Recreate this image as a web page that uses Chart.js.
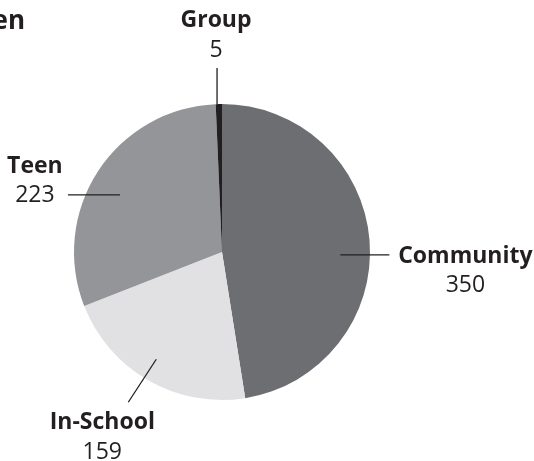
<!DOCTYPE html>
<html>
<head>
<meta charset="utf-8">
<script src="https://cdn.jsdelivr.net/npm/chart.js"></script>
<style>
  body { margin: 0; background: #fff; }
  canvas { display: block; }
</style>
</head>
<body>
<canvas id="pieChart" width="534" height="461"></canvas>
<script>
// データ(時計回り、上から)
let categories = ['Community', 'In-School', 'Teen', 'Group'];
let counts = [350, 159, 223, 5];
let sliceColors = ['#6d6e71', '#e1e1e3', '#939598', '#231f20'];

// ラベルの引き出し線の設定(角度のずれ, 始点の半径比, 線の向き, 文字の位置)
let callouts = [
  { shift: 5.9,  r: 0.80, dx: 49,  dy: 0,   tx: 76,  ty: 8 },
  { shift: 1.7,  r: 0.85, dx: -28, dy: 43,  tx: -26, ty: 27 },
  { shift: -3.9, r: 0.79, dx: -52, dy: 0,   tx: -33, ty: -22 },
  { shift: -0.7, r: 1.0,  dx: 0,   dy: -36, tx: -1,  ty: -41 }
];

let fontFamily = '"Open Sans", "DejaVu Sans", sans-serif';
let textColor = '#231f20';

// 引き出し線とラベルを描くプラグイン
let calloutPlugin = {
  id: 'callouts',
  afterDraw: function(chart) {
    let ctx = chart.ctx;
    let arcs = chart.getDatasetMeta(0).data;
    ctx.save();
    // 左上の切れたタイトル
    ctx.fillStyle = textColor;
    ctx.font = 'bold 26px ' + fontFamily;
    ctx.textAlign = 'right';
    ctx.textBaseline = 'alphabetic';
    ctx.fillText('Children', 25, 29);

    for (let i = 0; i < arcs.length; i++) {
      let arc = arcs[i];
      let c = callouts[i];
      let mid = (arc.startAngle + arc.endAngle) / 2 + c.shift * Math.PI / 180;
      let x0 = arc.x + Math.cos(mid) * arc.outerRadius * c.r;
      let y0 = arc.y + Math.sin(mid) * arc.outerRadius * c.r;
      let x1 = x0 + c.dx;
      let y1 = y0 + c.dy;
      ctx.strokeStyle = textColor;
      ctx.lineWidth = 1.3;
      ctx.beginPath();
      ctx.moveTo(x0, y0);
      ctx.lineTo(x1, y1);
      ctx.stroke();

      ctx.textAlign = 'center';
      ctx.fillStyle = textColor;
      ctx.font = 'bold 23px ' + fontFamily;
      ctx.fillText(categories[i], x1 + c.tx, y1 + c.ty);
      ctx.font = '23px ' + fontFamily;
      ctx.fillText(String(counts[i]), x1 + c.tx, y1 + c.ty + 29.5);
    }
    ctx.restore();
  }
};

let pie = new Chart(document.getElementById('pieChart'), {
  type: 'pie',
  data: {
    labels: categories,
    datasets: [{
      data: counts,
      backgroundColor: sliceColors,
      borderWidth: 0
    }]
  },
  options: {
    responsive: false,
    animation: false,
    layout: {
      padding: { top: 104, bottom: 61, left: 74, right: 164 }
    },
    plugins: {
      legend: { display: false },
      tooltip: { enabled: false },
      title: { display: false }
    }
  },
  plugins: [calloutPlugin]
});
</script>
</body>
</html>
